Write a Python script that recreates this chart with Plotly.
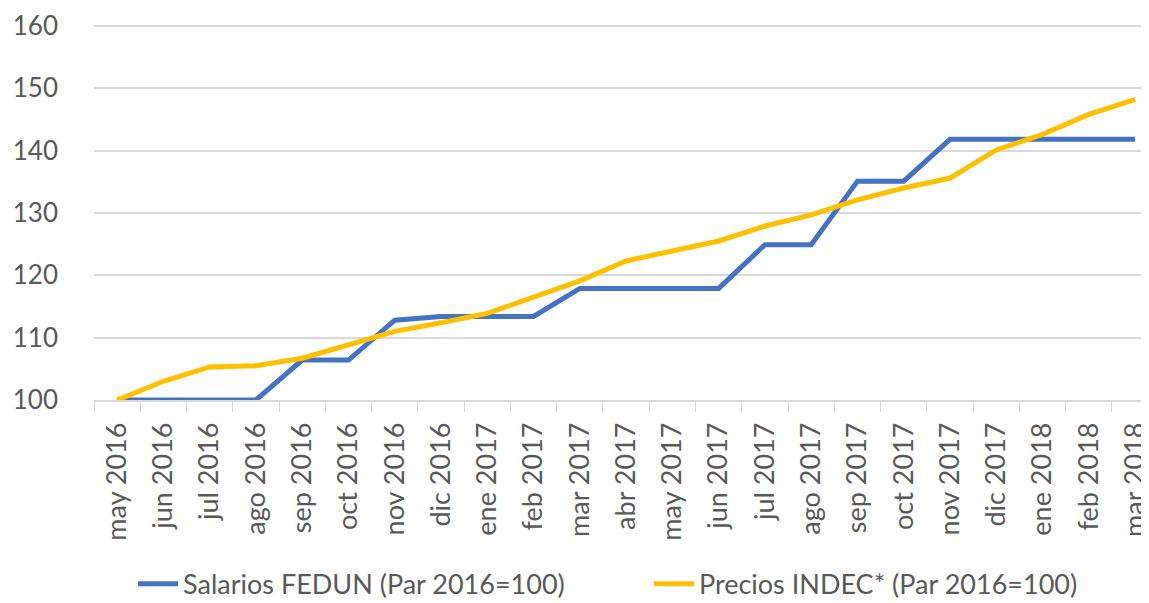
import plotly.graph_objects as go

months = ["may 2016", "jun 2016", "jul 2016", "ago 2016", "sep 2016", "oct 2016",
          "nov 2016", "dic 2016", "ene 2017", "feb 2017", "mar 2017", "abr 2017",
          "may 2017", "jun 2017", "jul 2017", "ago 2017", "sep 2017", "oct 2017",
          "nov 2017", "dic 2017", "ene 2018", "feb 2018", "mar 2018"]

salarios = [100, 100, 100, 100, 106.4, 106.4, 112.8, 113.4, 113.4, 113.4, 117.9, 117.9,
            117.9, 117.9, 124.9, 124.9, 135.1, 135.1, 141.8, 141.8, 141.8, 141.8, 141.8]

precios = [100, 103.0, 105.3, 105.5, 106.7, 108.9, 111.0, 112.4, 113.9, 116.5, 119.1, 122.3,
           123.9, 125.5, 127.9, 129.7, 132.1, 134.0, 135.6, 140.1, 142.6, 145.8, 148.2]

name_sal = "Salarios FEDUN (Par 2016=100)"
name_pre = "Precios INDEC* (Par 2016=100)"

fig = go.Figure()
fig.add_trace(go.Scatter(x=months, y=salarios, mode="lines", name=name_sal,
                         line=dict(color="#4472C4", width=5), legend="legend"))
fig.add_trace(go.Scatter(x=months, y=precios, mode="lines", name=name_pre,
                         line=dict(color="#FFC000", width=5), legend="legend2"))

font_family = "Lato, Open Sans, sans-serif"
legend_font = dict(family=font_family, size=27, color="#595959")
fig.update_layout(
    width=1141, height=595,
    margin=dict(l=86, r=0, t=16, b=203, autoexpand=False),
    paper_bgcolor="white", plot_bgcolor="white",
    showlegend=True,
    legend=dict(orientation="h", x=0.037, xanchor="left", y=-0.49, yanchor="middle",
                font=legend_font, itemwidth=40),
    legend2=dict(orientation="h", x=0.526, xanchor="left", y=-0.49, yanchor="middle",
                 font=legend_font, itemwidth=40),
    font=dict(family=font_family, color="#595959"),
)
fig.update_xaxes(
    type="category", range=[-0.5, 22.3],
    showgrid=False, showline=True, linecolor="#D9D9D9", linewidth=1.5,
    ticks="outside", tickson="boundaries", ticklen=10, tickcolor="#D9D9D9",
    tickangle=-90, tickfont=dict(family=font_family, size=27, color="#595959"),
    ticklabelstandoff=10,
    fixedrange=True,
)
fig.update_yaxes(
    range=[100, 160.3], tickvals=[100, 110, 120, 130, 140, 150, 160],
    showgrid=True, gridcolor="#D9D9D9", gridwidth=1.5,
    zeroline=False, showline=False, ticks="",
    tickfont=dict(family=font_family, size=26, color="#595959"),
    ticklabelstandoff=35,
)

fig.write_html("out.html")
